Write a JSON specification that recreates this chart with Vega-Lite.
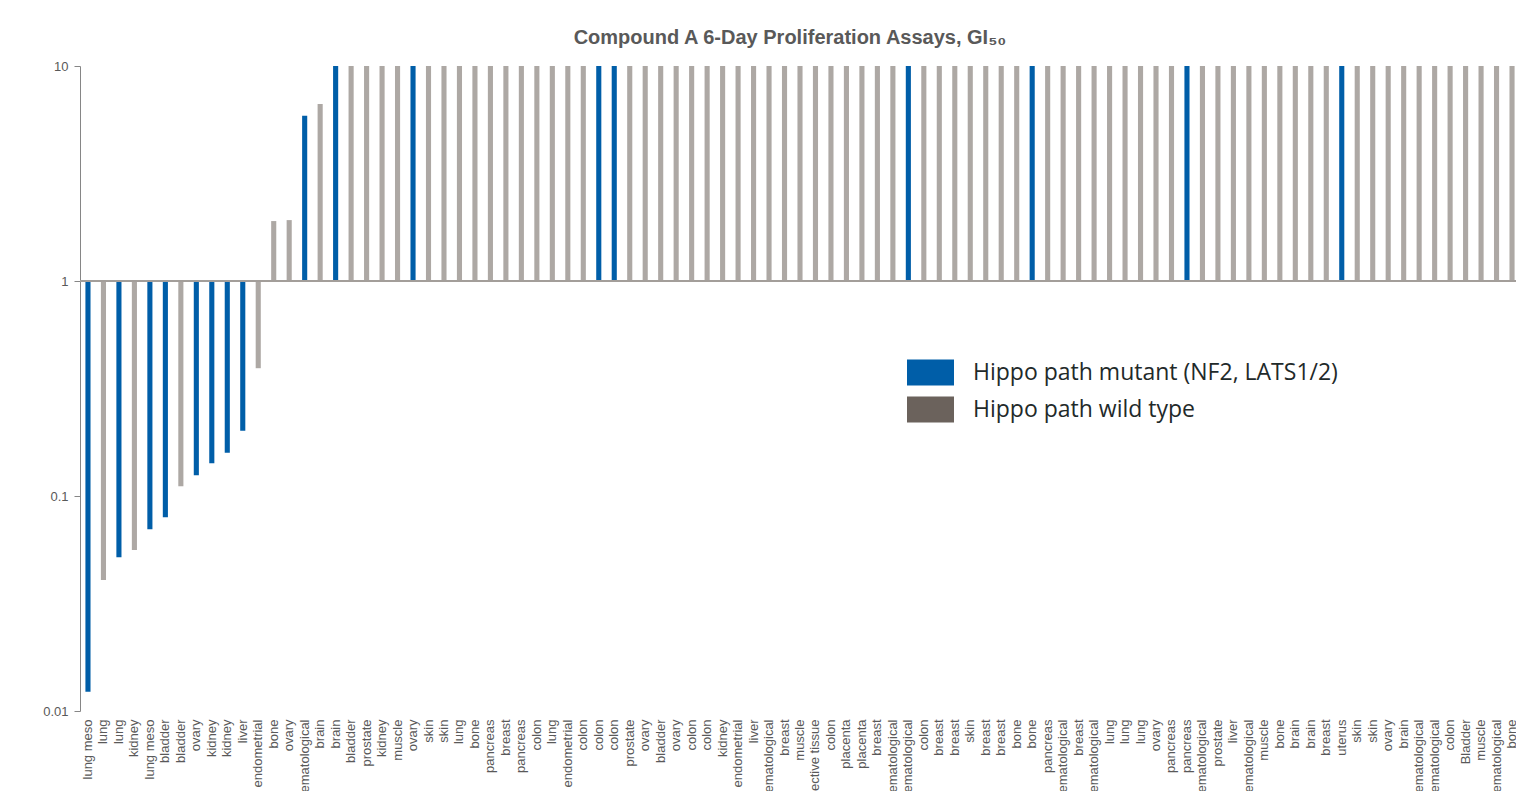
{
  "$schema": "https://vega.github.io/schema/vega-lite/v6.json",
  "width": 1440,
  "height": 645,
  "autosize": {"type": "none"},
  "padding": {"left": 80, "top": 66, "right": 0, "bottom": 80},
  "background": "white",
  "title": {
    "text": "Compound A 6-Day Proliferation Assays, GI₅₀",
    "font": "Liberation Sans",
    "fontSize": 20,
    "fontWeight": "bold",
    "color": "#595959",
    "anchor": "middle",
    "offset": 12,
    "dx": -10
  },
  "config": {"view": {"stroke": null}},
  "data": {
    "values": [
      {"n": 1, "tissue": "lung meso", "gi50": 0.0123, "hippo": "Hippo path mutant (NF2, LATS1/2)"},
      {"n": 2, "tissue": "lung", "gi50": 0.0407, "hippo": "Hippo path wild type"},
      {"n": 3, "tissue": "lung", "gi50": 0.0519, "hippo": "Hippo path mutant (NF2, LATS1/2)"},
      {"n": 4, "tissue": "kidney", "gi50": 0.0561, "hippo": "Hippo path wild type"},
      {"n": 5, "tissue": "lung meso", "gi50": 0.070, "hippo": "Hippo path mutant (NF2, LATS1/2)"},
      {"n": 6, "tissue": "bladder", "gi50": 0.0796, "hippo": "Hippo path mutant (NF2, LATS1/2)"},
      {"n": 7, "tissue": "bladder", "gi50": 0.111, "hippo": "Hippo path wild type"},
      {"n": 8, "tissue": "ovary", "gi50": 0.125, "hippo": "Hippo path mutant (NF2, LATS1/2)"},
      {"n": 9, "tissue": "kidney", "gi50": 0.142, "hippo": "Hippo path mutant (NF2, LATS1/2)"},
      {"n": 10, "tissue": "kidney", "gi50": 0.159, "hippo": "Hippo path mutant (NF2, LATS1/2)"},
      {"n": 11, "tissue": "liver", "gi50": 0.201, "hippo": "Hippo path mutant (NF2, LATS1/2)"},
      {"n": 12, "tissue": "endometrial", "gi50": 0.393, "hippo": "Hippo path wild type"},
      {"n": 13, "tissue": "bone", "gi50": 1.90, "hippo": "Hippo path wild type"},
      {"n": 14, "tissue": "ovary", "gi50": 1.92, "hippo": "Hippo path wild type"},
      {"n": 15, "tissue": "hematological", "gi50": 5.87, "hippo": "Hippo path mutant (NF2, LATS1/2)"},
      {"n": 16, "tissue": "brain", "gi50": 6.66, "hippo": "Hippo path wild type"},
      {"n": 17, "tissue": "brain", "gi50": 10, "hippo": "Hippo path mutant (NF2, LATS1/2)"},
      {"n": 18, "tissue": "bladder", "gi50": 10, "hippo": "Hippo path wild type"},
      {"n": 19, "tissue": "prostate", "gi50": 10, "hippo": "Hippo path wild type"},
      {"n": 20, "tissue": "kidney", "gi50": 10, "hippo": "Hippo path wild type"},
      {"n": 21, "tissue": "muscle", "gi50": 10, "hippo": "Hippo path wild type"},
      {"n": 22, "tissue": "ovary", "gi50": 10, "hippo": "Hippo path mutant (NF2, LATS1/2)"},
      {"n": 23, "tissue": "skin", "gi50": 10, "hippo": "Hippo path wild type"},
      {"n": 24, "tissue": "skin", "gi50": 10, "hippo": "Hippo path wild type"},
      {"n": 25, "tissue": "lung", "gi50": 10, "hippo": "Hippo path wild type"},
      {"n": 26, "tissue": "bone", "gi50": 10, "hippo": "Hippo path wild type"},
      {"n": 27, "tissue": "pancreas", "gi50": 10, "hippo": "Hippo path wild type"},
      {"n": 28, "tissue": "breast", "gi50": 10, "hippo": "Hippo path wild type"},
      {"n": 29, "tissue": "pancreas", "gi50": 10, "hippo": "Hippo path wild type"},
      {"n": 30, "tissue": "colon", "gi50": 10, "hippo": "Hippo path wild type"},
      {"n": 31, "tissue": "lung", "gi50": 10, "hippo": "Hippo path wild type"},
      {"n": 32, "tissue": "endometrial", "gi50": 10, "hippo": "Hippo path wild type"},
      {"n": 33, "tissue": "colon", "gi50": 10, "hippo": "Hippo path wild type"},
      {"n": 34, "tissue": "colon", "gi50": 10, "hippo": "Hippo path mutant (NF2, LATS1/2)"},
      {"n": 35, "tissue": "colon", "gi50": 10, "hippo": "Hippo path mutant (NF2, LATS1/2)"},
      {"n": 36, "tissue": "prostate", "gi50": 10, "hippo": "Hippo path wild type"},
      {"n": 37, "tissue": "ovary", "gi50": 10, "hippo": "Hippo path wild type"},
      {"n": 38, "tissue": "bladder", "gi50": 10, "hippo": "Hippo path wild type"},
      {"n": 39, "tissue": "ovary", "gi50": 10, "hippo": "Hippo path wild type"},
      {"n": 40, "tissue": "colon", "gi50": 10, "hippo": "Hippo path wild type"},
      {"n": 41, "tissue": "colon", "gi50": 10, "hippo": "Hippo path wild type"},
      {"n": 42, "tissue": "kidney", "gi50": 10, "hippo": "Hippo path wild type"},
      {"n": 43, "tissue": "endometrial", "gi50": 10, "hippo": "Hippo path wild type"},
      {"n": 44, "tissue": "liver", "gi50": 10, "hippo": "Hippo path wild type"},
      {"n": 45, "tissue": "hematological", "gi50": 10, "hippo": "Hippo path wild type"},
      {"n": 46, "tissue": "breast", "gi50": 10, "hippo": "Hippo path wild type"},
      {"n": 47, "tissue": "muscle", "gi50": 10, "hippo": "Hippo path wild type"},
      {"n": 48, "tissue": "connective tissue", "gi50": 10, "hippo": "Hippo path wild type"},
      {"n": 49, "tissue": "colon", "gi50": 10, "hippo": "Hippo path wild type"},
      {"n": 50, "tissue": "placenta", "gi50": 10, "hippo": "Hippo path wild type"},
      {"n": 51, "tissue": "placenta", "gi50": 10, "hippo": "Hippo path wild type"},
      {"n": 52, "tissue": "breast", "gi50": 10, "hippo": "Hippo path wild type"},
      {"n": 53, "tissue": "hematological", "gi50": 10, "hippo": "Hippo path wild type"},
      {"n": 54, "tissue": "hematological", "gi50": 10, "hippo": "Hippo path mutant (NF2, LATS1/2)"},
      {"n": 55, "tissue": "colon", "gi50": 10, "hippo": "Hippo path wild type"},
      {"n": 56, "tissue": "breast", "gi50": 10, "hippo": "Hippo path wild type"},
      {"n": 57, "tissue": "breast", "gi50": 10, "hippo": "Hippo path wild type"},
      {"n": 58, "tissue": "skin", "gi50": 10, "hippo": "Hippo path wild type"},
      {"n": 59, "tissue": "breast", "gi50": 10, "hippo": "Hippo path wild type"},
      {"n": 60, "tissue": "breast", "gi50": 10, "hippo": "Hippo path wild type"},
      {"n": 61, "tissue": "bone", "gi50": 10, "hippo": "Hippo path wild type"},
      {"n": 62, "tissue": "bone", "gi50": 10, "hippo": "Hippo path mutant (NF2, LATS1/2)"},
      {"n": 63, "tissue": "pancreas", "gi50": 10, "hippo": "Hippo path wild type"},
      {"n": 64, "tissue": "hematological", "gi50": 10, "hippo": "Hippo path wild type"},
      {"n": 65, "tissue": "breast", "gi50": 10, "hippo": "Hippo path wild type"},
      {"n": 66, "tissue": "hematological", "gi50": 10, "hippo": "Hippo path wild type"},
      {"n": 67, "tissue": "lung", "gi50": 10, "hippo": "Hippo path wild type"},
      {"n": 68, "tissue": "lung", "gi50": 10, "hippo": "Hippo path wild type"},
      {"n": 69, "tissue": "lung", "gi50": 10, "hippo": "Hippo path wild type"},
      {"n": 70, "tissue": "ovary", "gi50": 10, "hippo": "Hippo path wild type"},
      {"n": 71, "tissue": "pancreas", "gi50": 10, "hippo": "Hippo path wild type"},
      {"n": 72, "tissue": "pancreas", "gi50": 10, "hippo": "Hippo path mutant (NF2, LATS1/2)"},
      {"n": 73, "tissue": "hematological", "gi50": 10, "hippo": "Hippo path wild type"},
      {"n": 74, "tissue": "prostate", "gi50": 10, "hippo": "Hippo path wild type"},
      {"n": 75, "tissue": "liver", "gi50": 10, "hippo": "Hippo path wild type"},
      {"n": 76, "tissue": "hematological", "gi50": 10, "hippo": "Hippo path wild type"},
      {"n": 77, "tissue": "muscle", "gi50": 10, "hippo": "Hippo path wild type"},
      {"n": 78, "tissue": "bone", "gi50": 10, "hippo": "Hippo path wild type"},
      {"n": 79, "tissue": "brain", "gi50": 10, "hippo": "Hippo path wild type"},
      {"n": 80, "tissue": "brain", "gi50": 10, "hippo": "Hippo path wild type"},
      {"n": 81, "tissue": "breast", "gi50": 10, "hippo": "Hippo path wild type"},
      {"n": 82, "tissue": "uterus", "gi50": 10, "hippo": "Hippo path mutant (NF2, LATS1/2)"},
      {"n": 83, "tissue": "skin", "gi50": 10, "hippo": "Hippo path wild type"},
      {"n": 84, "tissue": "skin", "gi50": 10, "hippo": "Hippo path wild type"},
      {"n": 85, "tissue": "ovary", "gi50": 10, "hippo": "Hippo path wild type"},
      {"n": 86, "tissue": "brain", "gi50": 10, "hippo": "Hippo path wild type"},
      {"n": 87, "tissue": "hematological", "gi50": 10, "hippo": "Hippo path wild type"},
      {"n": 88, "tissue": "hematological", "gi50": 10, "hippo": "Hippo path wild type"},
      {"n": 89, "tissue": "colon", "gi50": 10, "hippo": "Hippo path wild type"},
      {"n": 90, "tissue": "Bladder", "gi50": 10, "hippo": "Hippo path wild type"},
      {"n": 91, "tissue": "muscle", "gi50": 10, "hippo": "Hippo path wild type"},
      {"n": 92, "tissue": "hematological", "gi50": 10, "hippo": "Hippo path wild type"},
      {"n": 93, "tissue": "bone", "gi50": 10, "hippo": "Hippo path wild type"}
    ]
  },
  "transform": [{"calculate": "datum.n + '|' + datum.tissue", "as": "key"}],
  "layer": [
    {
      "mark": {"type": "bar"},
      "encoding": {
        "x": {
          "field": "key",
          "type": "ordinal",
          "sort": {"field": "n", "op": "min"},
          "scale": {"paddingInner": 0.67, "paddingOuter": 0.35},
          "axis": {
            "title": null,
            "labelExpr": "split(datum.label, '|')[1]",
            "labelAngle": -90,
            "labelFont": "Liberation Sans",
            "labelFontSize": 13,
            "labelColor": "#595959",
            "labelPadding": 8,
            "labelOverlap": false,
            "labelBound": false,
            "labelLimit": 300,
            "ticks": false,
            "domain": false
          }
        },
        "y": {
          "field": "gi50",
          "type": "quantitative",
          "scale": {"type": "log", "domain": [0.01, 10], "nice": false},
          "axis": {
            "title": null,
            "values": [0.01, 0.1, 1, 10],
            "format": "~g",
            "grid": false,
            "labelFont": "Liberation Sans",
            "labelFontSize": 13,
            "labelColor": "#595959",
            "labelPadding": 6,
            "tickSize": 6,
            "tickColor": "#868686",
            "domainColor": "#868686"
          }
        },
        "y2": {"datum": 1},
        "opacity": {
          "condition": {"test": "datum.hippo === 'Hippo path wild type'", "value": 0.555},
          "value": 1
        },
        "color": {
          "field": "hippo",
          "type": "nominal",
          "scale": {
            "domain": ["Hippo path mutant (NF2, LATS1/2)", "Hippo path wild type"],
            "range": ["#005EA8", "#6B625C"]
          },
          "legend": {
            "title": null,
            "orient": "none",
            "legendX": 827,
            "legendY": 283,
            "padding": 0,
            "symbolType": "M-1,-0.553H1V0.553H-1Z",
            "symbolSize": 2209,
            "symbolStrokeWidth": 0,
            "symbolOpacity": 1,
            "labelFont": "Open Sans",
            "labelFontSize": 23,
            "labelColor": "#1f2a2a",
            "labelOffset": 19,
            "labelLimit": 500,
            "rowPadding": -5
          }
        }
      }
    },
    {
      "mark": {"type": "rule", "color": "#A39E9A", "strokeWidth": 2},
      "encoding": {"y": {"datum": 1, "type": "quantitative"}}
    }
  ]
}
